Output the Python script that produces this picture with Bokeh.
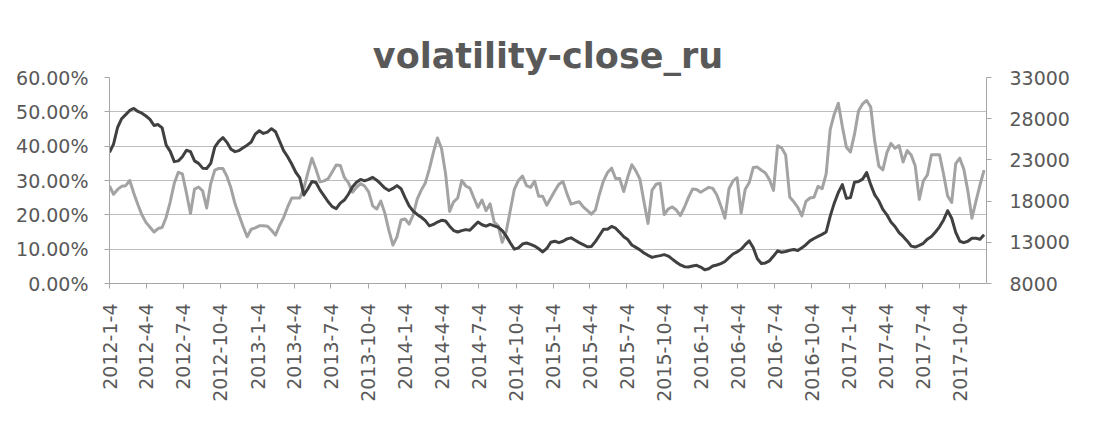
from datetime import datetime
import pandas as pd
from bokeh.plotting import figure
from bokeh.models import (Range1d, LinearAxis, FixedTicker, PrintfTickFormatter,
                          NumeralTickFormatter, CustomJSTickFormatter, ColumnDataSource)
from bokeh.embed import file_html
from bokeh.resources import INLINE

# ---------------- data ----------------
title_text = "volatility-close_ru"
first_date = "2012-01-04"
last_date = "2017-12-09"
sample_step_days = 10

x_tick_labels = ["2012-1-4", "2012-4-4", "2012-7-4", "2012-10-4",
                 "2013-1-4", "2013-4-4", "2013-7-4", "2013-10-4",
                 "2014-1-4", "2014-4-4", "2014-7-4", "2014-10-4",
                 "2015-1-4", "2015-4-4", "2015-7-4", "2015-10-4",
                 "2016-1-4", "2016-4-4", "2016-7-4", "2016-10-4",
                 "2017-1-4", "2017-4-4", "2017-7-4", "2017-10-4"]

left_ticks = [0, 10, 20, 30, 40, 50, 60]
right_ticks = [8000, 13000, 18000, 23000, 28000, 33000]

# volatility, percent (left axis)
vol_pct = [
    28.4, 26.0, 27.4, 28.3, 28.5, 30.0, 26.3, 23.0, 20.0, 17.8,
    16.4, 15.0, 16.0, 16.3, 19.3, 23.8, 29.2, 32.4, 31.9, 26.4,
    20.4, 27.5, 28.1, 27.0, 22.0, 29.1, 33.0, 33.5, 33.5, 31.2,
    27.8, 23.2, 19.9, 16.6, 13.6, 15.8, 16.2, 16.8, 16.8, 16.7,
    15.5, 14.1, 16.9, 19.2, 22.3, 24.9, 24.9, 24.9, 27.7, 32.3,
    36.5, 33.3, 29.6, 29.9, 30.5, 32.5, 34.5, 34.4, 30.9, 29.4,
    26.6, 28.0, 29.1, 28.4, 26.7, 22.6, 21.7, 24.0, 20.5, 15.5,
    11.2, 13.6, 18.5, 18.8, 17.3, 20.0, 24.6, 27.2, 29.3, 33.4,
    38.2, 42.4, 39.3, 32.0, 21.0, 23.8, 24.9, 30.0, 28.4, 27.8,
    24.9, 22.2, 24.3, 21.2, 23.2, 17.9, 16.8, 12.0, 15.2, 21.4,
    27.5, 30.0, 31.3, 28.5, 28.0, 29.8, 25.4, 25.4, 22.8, 24.9,
    27.0, 28.9, 29.7, 26.1, 23.1, 23.5, 23.8, 22.3, 21.3, 20.2,
    21.4, 26.0, 29.9, 32.3, 33.6, 30.6, 30.6, 26.8, 31.0, 34.6,
    32.8, 30.4, 23.8, 17.5, 27.2, 28.9, 29.2, 20.1, 21.7, 22.3,
    21.4, 19.8, 22.2, 25.1, 27.5, 27.4, 26.6, 27.3, 28.0, 27.7,
    25.8, 22.6, 19.0, 27.6, 29.9, 30.8, 20.5, 27.4, 29.4, 33.8,
    33.9, 33.0, 32.2, 30.2, 27.1, 40.1, 39.5, 37.4, 25.2, 23.8,
    22.2, 19.7, 23.9, 24.9, 25.1, 28.3, 27.6, 31.9, 44.9, 49.3,
    52.5, 45.7, 39.7, 38.3, 43.5, 50.3, 52.3, 53.3, 51.4, 41.4,
    34.2, 33.1, 38.1, 40.8, 39.4, 40.2, 35.4, 38.7, 37.4, 34.2,
    24.5, 29.9, 31.6, 37.5, 37.5, 37.5, 31.8, 25.5, 23.6, 34.9,
    36.5, 33.3, 26.9, 19.0, 24.0, 28.7, 33.0,
]

# close price (right axis)
close_ru = [
    23920, 24920, 26960, 28000, 28500, 29000, 29250, 28880, 28670, 28330,
    27920, 27170, 27290, 26880, 24790, 24040, 22790, 22880, 23380, 24170,
    24000, 22880, 22580, 22000, 21960, 22580, 24540, 25250, 25710, 25130,
    24290, 24000, 24130, 24460, 24790, 25170, 26130, 26540, 26210, 26380,
    26790, 26420, 25290, 24130, 23380, 22500, 21500, 20830, 18750, 19500,
    20380, 20250, 19330, 18630, 17920, 17330, 17080, 17750, 18130, 18830,
    19710, 20290, 20630, 20460, 20630, 20880, 20540, 20080, 19580, 19290,
    19540, 19880, 19500, 18420, 17420, 16790, 16380, 16040, 15630, 15000,
    15170, 15460, 15670, 15580, 14960, 14420, 14250, 14420, 14540, 14460,
    14960, 15460, 15130, 14960, 15170, 15000, 14830, 14420, 13750, 12920,
    12170, 12330, 12790, 12920, 12750, 12540, 12210, 11830, 12250, 13000,
    13130, 12960, 13130, 13420, 13540, 13250, 12960, 12710, 12460, 12500,
    13080, 13830, 14580, 14580, 14920, 14710, 14210, 13670, 13330, 12670,
    12380, 12080, 11710, 11420, 11170, 11290, 11380, 11500, 11330, 10960,
    10580, 10250, 10040, 10000, 10130, 10210, 10000, 9670, 9790, 10130,
    10250, 10420, 10670, 11130, 11580, 11830, 12170, 12710, 13170, 12330,
    11000, 10420, 10500, 10750, 11330, 11960, 11790, 11880, 12040, 12130,
    12000, 12330, 12710, 13170, 13460, 13710, 13960, 14250, 16170, 17750,
    19040, 20000, 18330, 18420, 20290, 20380, 20670, 21460, 20000, 18750,
    18040, 17000, 16330, 15460, 14920, 14170, 13710, 13170, 12540, 12420,
    12630, 12880, 13380, 13710, 14250, 14880, 15710, 16830, 15920, 14210,
    13130, 12960, 13130, 13500, 13500, 13380, 13920,
]

# ---------------- chart ----------------
dates = pd.date_range(first_date, periods=len(vol_pct), freq=f"{sample_step_days}D")
src = ColumnDataSource(dict(date=dates, vol=vol_pct, close=close_ru))

epoch = datetime(1970, 1, 1)
tick_ms = [(datetime.strptime(s, "%Y-%m-%d") - epoch).total_seconds() * 1000.0
           for s in x_tick_labels]

FONT = "DejaVu Sans"
TXT = "#595959"
AXC = "#a6a6a6"

p = figure(width=1080, height=424, x_axis_type="datetime",
           x_range=Range1d(pd.Timestamp(first_date), pd.Timestamp(last_date)),
           y_range=Range1d(left_ticks[0], left_ticks[-1]),
           output_backend="svg", toolbar_location=None,
           min_border_left=109, min_border_right=94,
           min_border_top=77, min_border_bottom=141)
p.extra_y_ranges = {"price": Range1d(right_ticks[0], right_ticks[-1])}

p.title.text = title_text
p.title.align = "center"
p.title.text_font = FONT
p.title.text_font_size = "35px"
p.title.text_font_style = "bold"
p.title.text_color = TXT
p.title.standoff = 4

p.outline_line_color = None
p.background_fill_color = "white"
p.border_fill_color = "white"
p.xgrid.visible = False
p.ygrid.grid_line_color = "#bdbdbd"
p.ygrid.grid_line_width = 1

p.line("date", "vol", source=src, line_color="#a3a3a3", line_width=3,
       line_join="round")
p.line("date", "close", source=src, line_color="#404040", line_width=3,
       line_join="round", y_range_name="price")

right_axis = LinearAxis(y_range_name="price",
                        ticker=FixedTicker(ticks=right_ticks),
                        formatter=NumeralTickFormatter(format="0"))
p.add_layout(right_axis, "right")

p.yaxis[0].ticker = FixedTicker(ticks=left_ticks)
p.yaxis[0].formatter = PrintfTickFormatter(format="%.2f%%")

p.xaxis.ticker = FixedTicker(ticks=tick_ms)
p.xaxis.formatter = CustomJSTickFormatter(code="""
const d = new Date(tick);
return d.getUTCFullYear() + "-" + (d.getUTCMonth() + 1) + "-" + d.getUTCDate();
""")
p.xaxis.major_label_orientation = 3.14159265 / 2

for ax in [p.xaxis[0], p.yaxis[0], right_axis]:
    ax.axis_line_color = AXC
    ax.major_tick_line_color = AXC
    ax.minor_tick_line_color = None
    ax.major_tick_in = 0
    ax.major_tick_out = 5
    ax.major_label_text_font = FONT
    ax.major_label_text_font_size = "19px"
    ax.major_label_text_color = TXT

p.yaxis[0].major_label_standoff = 16
right_axis.major_label_standoff = 18
p.xaxis.major_label_standoff = 15

open("out.html", "w").write(file_html(p, INLINE))
